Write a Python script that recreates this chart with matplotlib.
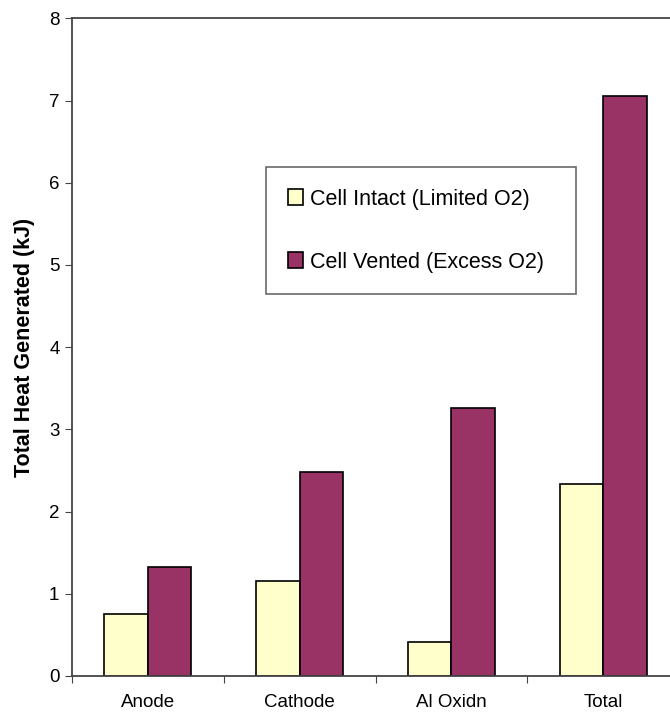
import matplotlib.pyplot as plt
import numpy as np

plt.rcParams['font.family'] = ['Liberation Sans', 'DejaVu Sans']

categories = ['Anode', 'Cathode', 'Al Oxidn', 'Total']
intact = [0.76, 1.15, 0.41, 2.33]
vented = [1.32, 2.48, 3.26, 7.06]
series_names = ['Cell Intact (Limited O2)', 'Cell Vented (Excess O2)']

W, H = 670, 712
fig = plt.figure(figsize=(W / 100, H / 100), dpi=100)
# axes box in pixels: left 72, right ~679 (cut off), top 18, bottom 676
ax = fig.add_axes([72 / W, (H - 676) / H, (679 - 72) / W, (676 - 18.3) / H])

x = np.arange(len(categories))
bw = 0.286
ax.bar(x - bw / 2, intact, bw, color='#FFFFCC', edgecolor='black', linewidth=1.2,
       label=series_names[0])
ax.bar(x + bw / 2, vented, bw, color='#993366', edgecolor='black', linewidth=1.2,
       label=series_names[1])

ax.set_xlim(-0.5, len(categories) - 0.5)
ax.set_ylim(0, 8)
ax.set_yticks(range(0, 9))
ax.tick_params(axis='y', direction='out', length=5, labelsize=13.5, color='#444444',
               pad=4)

# category boundaries get the tick marks, centers get the labels
ax.set_xticks(np.arange(len(categories) + 1) - 0.5)
ax.set_xticklabels([])
ax.set_xticks(x, minor=True)
ax.set_xticklabels(categories, minor=True)
ax.tick_params(axis='x', which='major', direction='out', length=5, color='#444444')
ax.tick_params(axis='x', which='minor', length=0, labelsize=13.5, pad=13)

for s in ['left', 'bottom', 'top', 'right']:
    ax.spines[s].set_color('#444444')
    ax.spines[s].set_linewidth(1.3)

ax.set_ylabel('Total Heat Generated (kJ)', fontsize=15.5, fontweight='bold', labelpad=10)

leg = ax.legend(loc='upper left', mode='expand',
                bbox_to_anchor=(266 / W, (H - 293) / H, 310 / W, 126 / H),
                bbox_transform=fig.transFigure, fontsize=15.5, frameon=True,
                fancybox=False, edgecolor='#444444', handlelength=0.7,
                handleheight=0.7, handletextpad=0.35, labelspacing=1.95,
                borderpad=1.0, borderaxespad=0)
leg.get_frame().set_linewidth(1.2)

fig.savefig('out.png', dpi=100)
